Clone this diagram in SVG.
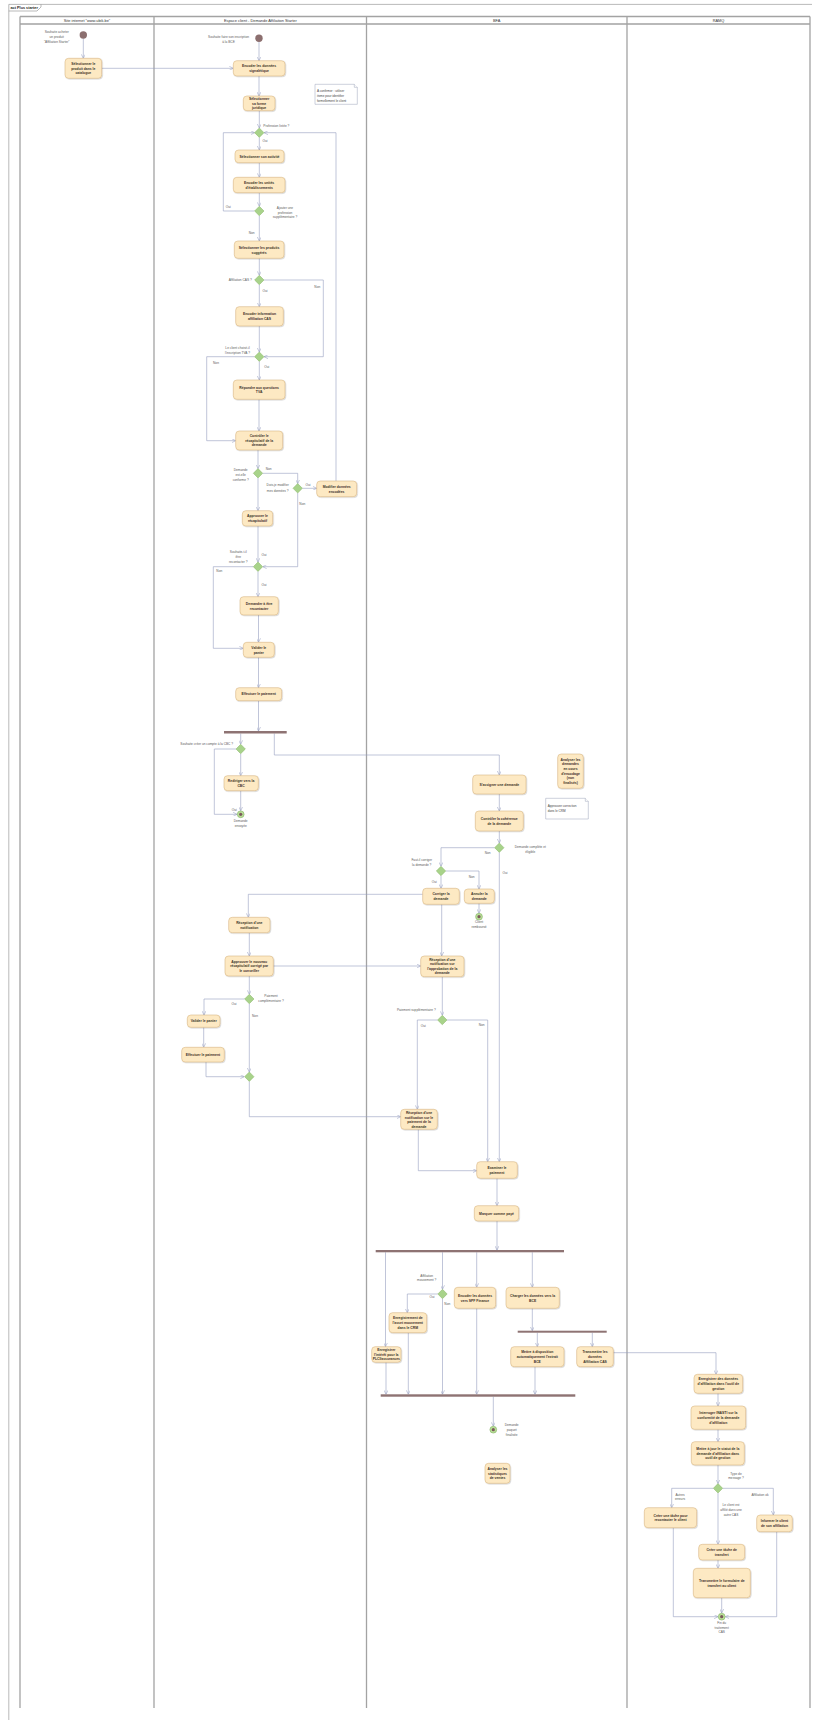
<svg xmlns="http://www.w3.org/2000/svg" xmlns:xlink="http://www.w3.org/1999/xlink" width="813" height="1720" viewBox="0 0 813 1720">
<style>
  .frame{fill:none;stroke:#8a8a8a;stroke-width:0.6}
  .lane{fill:none;stroke:#a3a3a3;stroke-width:1.3}
  .lt{font-family:"Liberation Sans",Arial,sans-serif;font-size:3.9px;fill:#333;text-anchor:middle}
  .a{fill:#fde9c3;stroke:#d2ad74;stroke-width:0.5;filter:url(#sh)}
  .at{font-family:"Liberation Sans",Arial,sans-serif;font-size:3.4px;font-weight:bold;fill:#3a3028;text-anchor:middle}
  .l{font-family:"Liberation Sans",Arial,sans-serif;font-size:3.2px;fill:#5a5a5a;text-anchor:middle}
  .ls{text-anchor:start}
  .le{text-anchor:end}
  .d{fill:#a8d38a;stroke:#86b266;stroke-width:0.5}
  .c{fill:none;stroke:#959dc0;stroke-width:0.6;marker-end:url(#ah)}
  .bar{fill:#8e7373}
  .st{fill:#8c6f6f}
  .eo{fill:#b9df98;stroke:#86b266;stroke-width:0.6}
  .ei{fill:#7a5a5a}
  .n{fill:#ffffff;stroke:#9aa0b8;stroke-width:0.5}
  .nt{font-family:"Liberation Sans",Arial,sans-serif;font-size:3.1px;fill:#444}
</style>
<defs>
  <marker id="ah" viewBox="0 0 10 10" refX="10" refY="5" markerWidth="4" markerHeight="4" markerUnits="userSpaceOnUse" orient="auto">
    <path d="M0,0 L10,5 L0,10" fill="none" stroke="#959dc0" stroke-width="1.3"/>
  </marker>
  <filter id="sh" x="-10%" y="-10%" width="130%" height="140%">
    <feDropShadow dx="0.7" dy="0.7" stdDeviation="0.5" flood-color="#000" flood-opacity="0.22"/>
  </filter>
  <path id="dm" d="M0,-4.7 L4.7,0 L0,4.7 L-4.7,0 Z"/>
</defs>

<rect width="813" height="1720" fill="#ffffff"/>

<!-- outer frame -->
<g id="frame">
  <path class="frame" d="M8.8,1722 L8.8,4.4 L812,4.4"/>
  <path class="frame" d="M8.8,11 L37,11 L41,7 L41,4.4"/>
  <text x="10.5" y="8.9" font-family="Liberation Sans,Arial,sans-serif" font-size="3.8" font-weight="bold" fill="#222">act Plus starter</text>
</g>

<!-- swimlanes -->
<g id="lanes">
  <path class="lane" d="M20,16.5 H810 M20,24 H810 M20,16.5 V1708 M154,16.5 V1708 M366.5,16.5 V1708 M627,16.5 V1708 M810,16.5 V1708"/>
  <text class="lt" x="87" y="21.6">Site internet "www.ubik.be"</text>
  <text class="lt" x="260.3" y="21.6">Espace client - Demande Affiliation Starter</text>
  <text class="lt" x="496.7" y="21.6">BFA</text>
  <text class="lt" x="718.5" y="21.6">RAMQ</text>
</g>

<!-- connectors -->
<g id="connectors">
  <path class="c" d="M83.3,38.7 V58.3"/>
  <path class="c" d="M101.7,68.3 H233.3"/>
  <path class="c" d="M259,42 V60.7"/>
  <path class="c" d="M259,76 V96"/>
  <path class="c" d="M259.3,110.7 V128"/>
  <path class="c" d="M259.3,137.4 V150"/>
  <path class="c" d="M259.3,162.7 V177.3"/>
  <path class="c" d="M259.3,192.7 V206.3"/>
  <path class="c" d="M254.6,211 H223.3 V132.7 H254.6"/>
  <path class="c" d="M259.3,215.7 V241"/>
  <path class="c" d="M259.3,258.3 V275.3"/>
  <path class="c" d="M259.3,284.7 V306.7"/>
  <path class="c" d="M264,280 H323.3 V356.7 H264"/>
  <path class="c" d="M259.3,326 V352"/>
  <path class="c" d="M259.3,361.4 V380"/>
  <path class="c" d="M254.6,356.7 H206.7 V440.7 H235.7"/>
  <path class="c" d="M259,399.3 V431"/>
  <path class="c" d="M258,450 V468.6"/>
  <path class="c" d="M262.7,473.3 H297.7 V483.6"/>
  <path class="c" d="M302.4,488.3 H316.7"/>
  <path class="c" d="M336,481 V132.7 H264"/>
  <path class="c" d="M297.7,493 V566.7 H262.7"/>
  <path class="c" d="M258,478 V510.7"/>
  <path class="c" d="M258,526 V562"/>
  <path class="c" d="M258,571.4 V596.7"/>
  <path class="c" d="M253.3,566.7 H213.3 V648.3 H243.3"/>
  <path class="c" d="M258.5,615 V642.3"/>
  <path class="c" d="M258.5,657.3 V687.7"/>
  <path class="c" d="M258.5,700.7 V731"/>
  <path class="c" d="M240.7,733.5 V744.3"/>
  <path class="c" d="M240.7,753.7 V775.7"/>
  <path class="c" d="M240.7,790.7 V810.7"/>
  <path class="c" d="M236,749 H214.3 V814.3 H237.1"/>
  <path class="c" d="M274.3,733.5 V755 H499.3 V775"/>
  <path class="c" d="M499.3,794 V811"/>
  <path class="c" d="M499.3,831 V843"/>
  <path class="c" d="M494.6,847.7 H441 V866.3"/>
  <path class="c" d="M441,875.7 V888.3"/>
  <path class="c" d="M445.7,871 H479 V889"/>
  <path class="c" d="M479,903.3 V913.2"/>
  <path class="c" d="M422.7,894.3 H248.3 V917.3"/>
  <path class="c" d="M249.3,932.7 V956"/>
  <path class="c" d="M273.3,966 H420.7"/>
  <path class="c" d="M441.7,904.3 V956"/>
  <path class="c" d="M249.3,976 V994.3"/>
  <path class="c" d="M244.6,999 H204 V1015"/>
  <path class="c" d="M203.7,1027.3 V1047.3"/>
  <path class="c" d="M206,1062 V1076.7 H244.3"/>
  <path class="c" d="M249.3,1003.7 V1072"/>
  <path class="c" d="M249.3,1081.4 V1116.7 H400.7"/>
  <path class="c" d="M442.3,976.7 V1015.3"/>
  <path class="c" d="M437.6,1020 H417.3 V1109.3"/>
  <path class="c" d="M447,1020 H487.7 V1161.7"/>
  <path class="c" d="M499.3,852.4 V1161.7"/>
  <path class="c" d="M418.3,1129.3 V1170.7 H476.7"/>
  <path class="c" d="M497,1178.3 V1205.7"/>
  <path class="c" d="M497,1221 V1250"/>
  <path class="c" d="M385.5,1252.3 V1346.7"/>
  <path class="c" d="M442.5,1252.3 V1289.3"/>
  <path class="c" d="M437.8,1294 H407.3 V1312.7"/>
  <path class="c" d="M442.5,1298.7 V1394.3"/>
  <path class="c" d="M476.7,1252.3 V1287.3"/>
  <path class="c" d="M532.3,1252.3 V1287.3"/>
  <path class="c" d="M532.3,1308.3 V1330.7"/>
  <path class="c" d="M537.3,1332.7 V1346.7"/>
  <path class="c" d="M592.3,1332.7 V1346.7"/>
  <path class="c" d="M386,1362.3 V1394.3"/>
  <path class="c" d="M408.3,1332.7 V1394.3"/>
  <path class="c" d="M476.7,1308.3 V1394.3"/>
  <path class="c" d="M535,1366.7 V1394.3"/>
  <path class="c" d="M493.3,1396.7 V1426.3"/>
  <path class="c" d="M613.3,1352.7 H716 V1374.3"/>
  <path class="c" d="M718,1393.3 V1406"/>
  <path class="c" d="M718,1429.3 V1441.7"/>
  <path class="c" d="M718,1465 V1483.6"/>
  <path class="c" d="M713.3,1488.3 H671.7 V1507.7"/>
  <path class="c" d="M722.7,1488.3 H773.3 V1515"/>
  <path class="c" d="M718,1493 V1544.3"/>
  <path class="c" d="M718,1560 V1568.3"/>
  <path class="c" d="M721.7,1597.7 V1613"/>
  <path class="c" d="M673.3,1527.7 V1616.7 H718.1"/>
  <path class="c" d="M776.7,1531.7 V1616.7 H725.3"/>
</g>

<!-- Site internet lane -->
<g id="start_site">
  <circle class="st" cx="83.3" cy="35" r="3.7"/>
  <text class="l"><tspan x="56.7" y="33.4">Souhaite acheter</tspan><tspan x="56.7" y="37.9">un produit</tspan><tspan x="56.7" y="42.6">"Affiliation Starter"</tspan></text>
</g>
<g id="selectionner_produit">
  <rect class="a" x="65" y="58.3" width="36.7" height="20" rx="3.5"/>
  <text class="at"><tspan x="83.3" y="64.7">Sélectionner le</tspan><tspan x="83.3" y="69.5">produit dans le</tspan><tspan x="83.3" y="74.3">catalogue</tspan></text>
</g>

<!-- Espace client lane -->
<g id="start_client">
  <circle class="st" cx="259" cy="38.3" r="3.7"/>
  <text class="l"><tspan x="228.5" y="37.9">Souhaite faire son inscription</tspan><tspan x="228.5" y="43.2">à la BCE</tspan></text>
</g>
<g id="encoder_signaletique">
  <rect class="a" x="233.3" y="60.7" width="51.7" height="15.3" rx="3.5"/>
  <text class="at"><tspan x="259.1" y="67.2">Encoder les données</tspan><tspan x="259.1" y="72.2">signalétique</tspan></text>
</g>
<g id="note_identification">
  <path class="n" d="M315,84.3 H354.3 L357.3,87.3 V104.3 H315 Z"/>
  <path class="n" d="M354.3,84.3 V87.3 H357.3"/>
  <text class="nt"><tspan x="317" y="92.2">A confirmer : utiliser</tspan><tspan x="317" y="97.2">itsme pour identifier</tspan><tspan x="317" y="102.2">formellement le client</tspan></text>
</g>
<g id="forme_juridique">
  <rect class="a" x="243.3" y="96" width="31.7" height="14.7" rx="3.5"/>
  <text class="at"><tspan x="259.1" y="99.7">Sélectionner</tspan><tspan x="259.1" y="104.5">sa forme</tspan><tspan x="259.1" y="109.3">juridique</tspan></text>
</g>
<g id="d_profession">
  <use href="#dm" class="d" x="259.3" y="132.7"/>
  <text class="l ls" x="263.3" y="126.5">Profession listée ?</text>
  <text class="l" x="265" y="142.2">Oui</text>
</g>
<g id="selectionner_activite">
  <rect class="a" x="235" y="150" width="49" height="12.7" rx="3.5"/>
  <text class="at" x="259.5" y="157.6">Sélectionner son activité</text>
</g>
<g id="encoder_unites">
  <rect class="a" x="233.3" y="177.3" width="51.7" height="15.4" rx="3.5"/>
  <text class="at"><tspan x="259.1" y="183.9">Encoder les unités</tspan><tspan x="259.1" y="188.9">d'établissements</tspan></text>
</g>
<g id="d_profession_supp">
  <use href="#dm" class="d" x="259.3" y="211"/>
  <text class="l"><tspan x="285" y="208.9">Ajouter une</tspan><tspan x="285" y="213.5">profession</tspan><tspan x="285" y="217.9">supplémentaire ?</tspan></text>
  <text class="l" x="228.3" y="207.9">Oui</text>
  <text class="l" x="251.7" y="233.9">Non</text>
</g>
<g id="produits_suggeres">
  <rect class="a" x="234.3" y="241" width="49.7" height="17.3" rx="3.5"/>
  <text class="at"><tspan x="259.1" y="248.7">Sélectionner les produits</tspan><tspan x="259.1" y="253.7">suggérés</tspan></text>
</g>
<g id="d_affiliation_cas">
  <use href="#dm" class="d" x="259.3" y="280"/>
  <text class="l le" x="251.7" y="281.2">Affiliation CAS ?</text>
  <text class="l" x="265" y="291.9">Oui</text>
  <text class="l" x="317.3" y="287.9">Non</text>
</g>
<g id="encoder_cas">
  <rect class="a" x="235.7" y="306.7" width="47.6" height="19.3" rx="3.5"/>
  <text class="at"><tspan x="259.5" y="315.2">Encoder information</tspan><tspan x="259.5" y="319.9">affiliation CAS</tspan></text>
</g>
<g id="d_tva">
  <use href="#dm" class="d" x="259.3" y="356.7"/>
  <text class="l"><tspan x="237.5" y="348.5">Le client choisit-il</tspan><tspan x="237.5" y="353.5">l'inscription TVA ?</tspan></text>
  <text class="l" x="266.7" y="368.2">Oui</text>
  <text class="l" x="216" y="363.9">Non</text>
</g>
<g id="questions_tva">
  <rect class="a" x="233.3" y="380" width="51.7" height="19.3" rx="3.5"/>
  <text class="at"><tspan x="259.1" y="388.5">Répondre aux questions</tspan><tspan x="259.1" y="393.2">TVA</tspan></text>
</g>
<g id="controler_recap">
  <rect class="a" x="235.7" y="431" width="47" height="19" rx="3.5"/>
  <text class="at"><tspan x="259.2" y="436.8">Contrôler le</tspan><tspan x="259.2" y="441.6">récapitulatif de la</tspan><tspan x="259.2" y="446.4">demande</tspan></text>
</g>
<g id="d_conforme">
  <use href="#dm" class="d" x="258" y="473.3"/>
  <text class="l"><tspan x="240.7" y="470.5">Demande</tspan><tspan x="240.7" y="475.5">est-elle</tspan><tspan x="240.7" y="480.5">conforme ?</tspan></text>
  <text class="l" x="268.7" y="469.5">Non</text>
</g>
<g id="d_modifier">
  <use href="#dm" class="d" x="297.7" y="488.3"/>
  <text class="l"><tspan x="277.7" y="486.2">Dois-je modifier</tspan><tspan x="277.7" y="491.5">mes données ?</tspan></text>
  <text class="l" x="308" y="486.2">Oui</text>
  <text class="l" x="302.3" y="504.5">Non</text>
</g>
<g id="modifier_donnees">
  <rect class="a" x="316.7" y="481" width="40" height="15.7" rx="3.5"/>
  <text class="at"><tspan x="336.7" y="487.8">Modifier données</tspan><tspan x="336.7" y="492.6">encodées</tspan></text>
</g>
<g id="approuver_recap">
  <rect class="a" x="242.3" y="510.7" width="30.4" height="15.3" rx="3.5"/>
  <text class="at"><tspan x="257.5" y="517.2">Approuver le</tspan><tspan x="257.5" y="521.9">récapitulatif</tspan></text>
</g>
<g id="d_recontacter">
  <use href="#dm" class="d" x="258" y="566.7"/>
  <text class="l"><tspan x="238.3" y="552.9">Souhaite-t-il</tspan><tspan x="238.3" y="557.9">être</tspan><tspan x="238.3" y="562.9">recontacter ?</tspan></text>
  <text class="l" x="264" y="556.2">Oui</text>
  <text class="l" x="264" y="586.2">Oui</text>
  <text class="l" x="219.3" y="572.2">Non</text>
</g>
<g id="demander_recontact">
  <rect class="a" x="240" y="596.7" width="38.3" height="18.3" rx="3.5"/>
  <text class="at"><tspan x="259.1" y="604.5">Demander à être</tspan><tspan x="259.1" y="609.5">recontacter</tspan></text>
</g>
<g id="valider_panier">
  <rect class="a" x="243.3" y="642.3" width="31" height="15" rx="3.5"/>
  <text class="at"><tspan x="258.8" y="648.7">Valider le</tspan><tspan x="258.8" y="653.5">panier</tspan></text>
</g>
<g id="effectuer_paiement">
  <rect class="a" x="235.7" y="687.7" width="46" height="13" rx="3.5"/>
  <text class="at" x="258.7" y="695.4">Effectuer le paiement</text>
</g>
<g id="fork_paiement">
  <rect class="bar" x="224" y="731" width="62.7" height="2.5"/>
</g>
<g id="d_cbc">
  <use href="#dm" class="d" x="240.7" y="749"/>
  <text class="l" x="206.7" y="744.5">Souhaite créer un compte à la CBC ?</text>
</g>
<g id="rediriger_cbc">
  <rect class="a" x="224" y="775.7" width="34.3" height="15" rx="3.5"/>
  <text class="at"><tspan x="241.1" y="782">Rediriger vers la</tspan><tspan x="241.1" y="786.8">CBC</tspan></text>
</g>
<g id="end_demande_envoyee">
  <circle class="eo" cx="240.7" cy="814.3" r="3.4"/>
  <circle class="ei" cx="240.7" cy="814.3" r="1.6"/>
  <text class="l" x="234.3" y="811.2">Oui</text>
  <text class="l"><tspan x="240.7" y="821.9">Demande</tspan><tspan x="240.7" y="826.5">envoyée</tspan></text>
</g>
<g id="reception_notification">
  <rect class="a" x="228.7" y="917.3" width="41.3" height="15.4" rx="3.5"/>
  <text class="at"><tspan x="249.3" y="923.7">Réception d'une</tspan><tspan x="249.3" y="928.5">notification</tspan></text>
</g>
<g id="approuver_nouveau_recap">
  <rect class="a" x="225" y="956" width="48.3" height="20" rx="3.5"/>
  <text class="at"><tspan x="249.2" y="962.7">Approuver le nouveau</tspan><tspan x="249.2" y="967.4">récapitulatif corrigé par</tspan><tspan x="249.2" y="972.1">le conseiller</tspan></text>
</g>
<g id="d_paiement_complementaire">
  <use href="#dm" class="d" x="249.3" y="999"/>
  <text class="l"><tspan x="271" y="996.5">Paiement</tspan><tspan x="271" y="1001.5">complémentaire ?</tspan></text>
  <text class="l" x="234" y="1005.2">Oui</text>
  <text class="l" x="255" y="1016.5">Non</text>
</g>
<g id="valider_panier_2">
  <rect class="a" x="187.3" y="1015" width="32.7" height="12.3" rx="3.5"/>
  <text class="at" x="203.7" y="1022.4">Valider le panier</text>
</g>
<g id="effectuer_paiement_2">
  <rect class="a" x="181.7" y="1047.3" width="42.6" height="14.7" rx="3.5"/>
  <text class="at" x="203" y="1055.9">Effectuer le paiement</text>
</g>
<g id="merge_paiement">
  <use href="#dm" class="d" x="249.3" y="1076.7"/>
</g>

<!-- BFA lane -->
<g id="assigner_demande">
  <rect class="a" x="472.7" y="775" width="53.3" height="19" rx="3.5"/>
  <text class="at" x="499.3" y="785.7">S'assigner une demande</text>
</g>
<g id="analyser_demandes">
  <rect class="a" x="557.7" y="754" width="25.6" height="34.3" rx="3.5"/>
  <text class="at"><tspan x="570.5" y="760.5">Analyser les</tspan><tspan x="570.5" y="765.2">demandes</tspan><tspan x="570.5" y="769.9">en cours</tspan><tspan x="570.5" y="774.5">d'encodage</tspan><tspan x="570.5" y="779.2">(non</tspan><tspan x="570.5" y="783.9">finalisés)</tspan></text>
</g>
<g id="note_crm">
  <path class="n" d="M545.7,798.3 H585.3 L588.3,801.3 V819 H545.7 Z"/>
  <path class="n" d="M585.3,798.3 V801.3 H588.3"/>
  <text class="nt"><tspan x="547.7" y="806.9">Approuver correction</tspan><tspan x="547.7" y="811.9">dans le CRM</tspan></text>
</g>
<g id="controler_coherence">
  <rect class="a" x="475.3" y="811" width="48" height="20" rx="3.5"/>
  <text class="at"><tspan x="499.3" y="819.9">Contrôler la cohérence</tspan><tspan x="499.3" y="824.7">de la demande</tspan></text>
</g>
<g id="d_complete">
  <use href="#dm" class="d" x="499.3" y="847.7"/>
  <text class="l"><tspan x="530.3" y="848.2">Demande complète et</tspan><tspan x="530.3" y="852.9">éligible</tspan></text>
  <text class="l" x="487.7" y="853.5">Non</text>
  <text class="l" x="505" y="873.5">Oui</text>
</g>
<g id="d_corriger">
  <use href="#dm" class="d" x="441" y="871"/>
  <text class="l"><tspan x="421.7" y="861.2">Faut-il corriger</tspan><tspan x="421.7" y="866.2">la demande ?</tspan></text>
  <text class="l" x="434.3" y="882.9">Oui</text>
  <text class="l" x="471.7" y="877.9">Non</text>
</g>
<g id="corriger_demande">
  <rect class="a" x="422.7" y="888.3" width="36.6" height="16" rx="3.5"/>
  <text class="at"><tspan x="441" y="895">Corriger la</tspan><tspan x="441" y="899.8">demande</tspan></text>
</g>
<g id="annuler_demande">
  <rect class="a" x="464.3" y="889" width="30" height="14.3" rx="3.5"/>
  <text class="at"><tspan x="479.3" y="895">Annuler la</tspan><tspan x="479.3" y="899.8">demande</tspan></text>
</g>
<g id="end_client_rembourse">
  <circle class="eo" cx="479" cy="916.7" r="3.4"/>
  <circle class="ei" cx="479" cy="916.7" r="1.6"/>
  <text class="l"><tspan x="479" y="923.2">Client</tspan><tspan x="479" y="928.2">remboursé</tspan></text>
</g>
<g id="reception_approbation">
  <rect class="a" x="420.7" y="956" width="43.3" height="20.7" rx="3.5"/>
  <text class="at"><tspan x="442.3" y="960.6">Réception d'une</tspan><tspan x="442.3" y="965.2">notification sur</tspan><tspan x="442.3" y="969.8">l'approbation de la</tspan><tspan x="442.3" y="974.4">demande</tspan></text>
</g>
<g id="d_paiement_supplementaire">
  <use href="#dm" class="d" x="442.3" y="1020"/>
  <text class="l" x="416.3" y="1011.2">Paiement supplémentaire ?</text>
  <text class="l" x="423.3" y="1026.9">Oui</text>
  <text class="l" x="481.7" y="1025.5">Non</text>
</g>
<g id="reception_paiement">
  <rect class="a" x="400.7" y="1109.3" width="36.6" height="20" rx="3.5"/>
  <text class="at"><tspan x="419" y="1114">Réception d'une</tspan><tspan x="419" y="1118.6">notification sur le</tspan><tspan x="419" y="1123.2">paiement de la</tspan><tspan x="419" y="1127.8">demande</tspan></text>
</g>
<g id="examiner_paiement">
  <rect class="a" x="476.7" y="1161.7" width="40.6" height="16.6" rx="3.5"/>
  <text class="at"><tspan x="497" y="1168.8">Examiner le</tspan><tspan x="497" y="1173.6">paiement</tspan></text>
</g>
<g id="marquer_paye">
  <rect class="a" x="474.3" y="1205.7" width="44.4" height="15.3" rx="3.5"/>
  <text class="at" x="496.5" y="1214.6">Marquer comme payé</text>
</g>
<g id="fork_traitement">
  <rect class="bar" x="375.7" y="1250" width="188.3" height="2.3"/>
</g>
<g id="d_mouvement">
  <use href="#dm" class="d" x="442.5" y="1294"/>
  <text class="l"><tspan x="426.7" y="1276.5">Affiliation</tspan><tspan x="426.7" y="1281.2">mouvement ?</tspan></text>
  <text class="l" x="432" y="1298.2">Oui</text>
  <text class="l" x="447.3" y="1305.2">Non</text>
</g>
<g id="enregistrement_asset">
  <rect class="a" x="389" y="1312.7" width="37.7" height="20" rx="3.5"/>
  <text class="at"><tspan x="407.8" y="1319.2">Enregistrement de</tspan><tspan x="407.8" y="1324">l'asset mouvement</tspan><tspan x="407.8" y="1328.8">dans le CRM</tspan></text>
</g>
<g id="encoder_spf">
  <rect class="a" x="454.3" y="1287.3" width="41.4" height="21" rx="3.5"/>
  <text class="at"><tspan x="475" y="1296.7">Encoder les données</tspan><tspan x="475" y="1301.5">vers SPF Finance</tspan></text>
</g>
<g id="charger_bce">
  <rect class="a" x="506" y="1287.3" width="53.3" height="21" rx="3.5"/>
  <text class="at"><tspan x="532.6" y="1296.7">Charger les données vers la</tspan><tspan x="532.6" y="1301.5">BCE</tspan></text>
</g>
<g id="fork_bce">
  <rect class="bar" x="517.7" y="1330.7" width="89" height="2"/>
</g>
<g id="enregistrer_interet">
  <rect class="a" x="371.7" y="1346.7" width="29.3" height="15.6" rx="3.5"/>
  <text class="at"><tspan x="386.3" y="1351.2">Enregistrer</tspan><tspan x="386.3" y="1355.8">l'intérêt pour la</tspan><tspan x="386.3" y="1360.4">PLCI/assurances</tspan></text>
</g>
<g id="extrait_bce">
  <rect class="a" x="510.7" y="1346.7" width="53.3" height="20" rx="3.5"/>
  <text class="at"><tspan x="537.3" y="1353.2">Mettre à disposition</tspan><tspan x="537.3" y="1358">automatiquement l'extrait</tspan><tspan x="537.3" y="1362.8">BCE</tspan></text>
</g>
<g id="transmettre_cas">
  <rect class="a" x="576.7" y="1346.7" width="36.6" height="20" rx="3.5"/>
  <text class="at"><tspan x="595" y="1353.2">Transmettre les</tspan><tspan x="595" y="1358">données</tspan><tspan x="595" y="1362.8">Affiliation CAS</tspan></text>
</g>
<g id="join_traitement">
  <rect class="bar" x="380.7" y="1394.3" width="194.6" height="2.4"/>
</g>
<g id="end_demande_finalisee">
  <circle class="eo" cx="493.3" cy="1429.7" r="3.4"/>
  <circle class="ei" cx="493.3" cy="1429.7" r="1.6"/>
  <text class="l"><tspan x="511.7" y="1426.2">Demande</tspan><tspan x="511.7" y="1430.9">paquet</tspan><tspan x="511.7" y="1435.5">finalisée</tspan></text>
</g>
<g id="analyser_statistiques">
  <rect class="a" x="485" y="1463.3" width="25" height="20" rx="3.5"/>
  <text class="at"><tspan x="497.5" y="1469.9">Analyser les</tspan><tspan x="497.5" y="1474.6">statistiques</tspan><tspan x="497.5" y="1479.3">de ventes</tspan></text>
</g>

<!-- RAMQ lane -->
<g id="enregistrer_affiliation">
  <rect class="a" x="694" y="1374.3" width="48.7" height="19" rx="3.5"/>
  <text class="at"><tspan x="718.3" y="1380.2">Enregistrer des données</tspan><tspan x="718.3" y="1385">d'affiliation dans l'outil de</tspan><tspan x="718.3" y="1389.8">gestion</tspan></text>
</g>
<g id="interroger_inasti">
  <rect class="a" x="691" y="1406" width="54.7" height="23.3" rx="3.5"/>
  <text class="at"><tspan x="718.3" y="1414">Interroger INASTI sur la</tspan><tspan x="718.3" y="1418.8">conformité de la demande</tspan><tspan x="718.3" y="1423.6">d'affiliation</tspan></text>
</g>
<g id="mettre_a_jour_statut">
  <rect class="a" x="691.3" y="1441.7" width="53" height="23.3" rx="3.5"/>
  <text class="at"><tspan x="717.8" y="1449.7">Mettre à jour le statut de la</tspan><tspan x="717.8" y="1454.5">demande d'affiliation dans</tspan><tspan x="717.8" y="1459.3">outil de gestion</tspan></text>
</g>
<g id="d_type_message">
  <use href="#dm" class="d" x="718" y="1488.3"/>
  <text class="l"><tspan x="736" y="1474.5">Type de</tspan><tspan x="736" y="1478.9">message ?</tspan></text>
  <text class="l"><tspan x="680" y="1495.5">Autres</tspan><tspan x="680" y="1500.2">erreurs</tspan></text>
  <text class="l" x="760" y="1495.5">Affiliation ok</text>
  <text class="l"><tspan x="731" y="1505.5">Le client est</tspan><tspan x="731" y="1510.5">affilié dans une</tspan><tspan x="731" y="1515.5">autre CAS</tspan></text>
</g>
<g id="tache_recontacter">
  <rect class="a" x="644.3" y="1507.7" width="52.4" height="20" rx="3.5"/>
  <text class="at"><tspan x="670.5" y="1516.5">Créer une tâche pour</tspan><tspan x="670.5" y="1521.3">recontacter le client</tspan></text>
</g>
<g id="informer_client">
  <rect class="a" x="756.7" y="1515" width="35.6" height="16.7" rx="3.5"/>
  <text class="at"><tspan x="774.5" y="1522.2">Informer le client</tspan><tspan x="774.5" y="1526.9">de son affiliation</tspan></text>
</g>
<g id="tache_transfert">
  <rect class="a" x="698.7" y="1544.3" width="46" height="15.7" rx="3.5"/>
  <text class="at"><tspan x="721.7" y="1551">Créer une tâche de</tspan><tspan x="721.7" y="1555.8">transfert</tspan></text>
</g>
<g id="formulaire_transfert">
  <rect class="a" x="693.3" y="1568.3" width="57" height="29.4" rx="3.5"/>
  <text class="at"><tspan x="721.8" y="1581.8">Transmettre le formulaire de</tspan><tspan x="721.8" y="1586.6">transfert au client</tspan></text>
</g>
<g id="end_traitement_cas">
  <circle class="eo" cx="721.7" cy="1616.7" r="3.4"/>
  <circle class="ei" cx="721.7" cy="1616.7" r="1.6"/>
  <text class="l"><tspan x="721.7" y="1623.9">Fin du</tspan><tspan x="721.7" y="1628.5">traitement</tspan><tspan x="721.7" y="1633.2">CAS</tspan></text>
</g>
</svg>
